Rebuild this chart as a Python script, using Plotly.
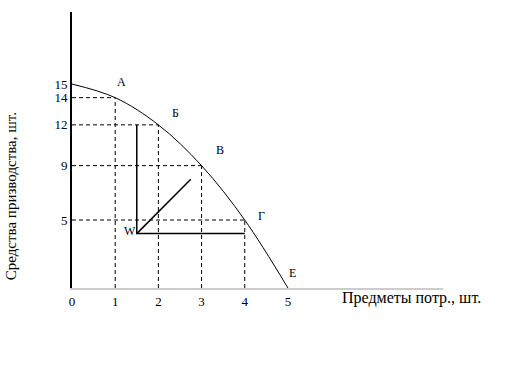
import plotly.graph_objects as go

# Production possibilities data
consumer_goods = [0, 1, 2, 3, 4, 5]          # Предметы потр., шт.
capital_goods = [15, 14, 12, 9, 5, 0]        # Средства призводства, шт.
point_labels = ["", "A", "Б", "В", "Г", "Е"]

# Point W (inside the frontier) and its guide lines
w_point = (1.5, 4)
w_vertical_top = 12
w_horizontal_right = 4
w_diag_end = (2.75, 8)

y_tick_vals = [15, 14, 12, 9, 5]
x_tick_vals = [0, 1, 2, 3, 4, 5]

serif = "Liberation Serif, Times New Roman, serif"
fig = go.Figure()

# dashed guides
for x, y in zip(consumer_goods[1:-1], capital_goods[1:-1]):
    fig.add_trace(go.Scatter(x=[x, x], y=[0, y], mode="lines",
                             line=dict(color="black", width=1, dash="4px,3px"),
                             hoverinfo="skip", showlegend=False))
    fig.add_trace(go.Scatter(x=[0, x], y=[y, y], mode="lines",
                             line=dict(color="black", width=1, dash="4px,3px"),
                             hoverinfo="skip", showlegend=False))

# frontier curve
fig.add_trace(go.Scatter(x=consumer_goods, y=capital_goods, mode="lines",
                         line=dict(color="black", width=1, shape="spline", smoothing=1.0),
                         showlegend=False))

# W lines
wx, wy = w_point
fig.add_trace(go.Scatter(x=[wx, wx, w_horizontal_right], y=[w_vertical_top, wy, wy],
                         mode="lines", line=dict(color="black", width=1.5), showlegend=False))
fig.add_trace(go.Scatter(x=[wx, w_diag_end[0]], y=[wy, w_diag_end[1]],
                         mode="lines", line=dict(color="black", width=1.5), showlegend=False))

# point labels
offsets = {"A": (6, 16), "Б": (17, 12), "В": (18, 16), "Г": (17, 4), "Е": (5, 15)}
for x, y, lab in zip(consumer_goods, capital_goods, point_labels):
    if not lab:
        continue
    dx, dy = offsets[lab]
    fig.add_annotation(x=x, y=y, text=lab, showarrow=False, xshift=dx, yshift=dy,
                       font=dict(family=serif, size=12, color="black"))
fig.add_annotation(x=wx, y=wy, text="W", showarrow=False, xshift=-7, yshift=3,
                   font=dict(family=serif, size=12, color="black"))

# axis titles
fig.add_annotation(xref="paper", yref="paper", x=0.916, y=-0.036, text="Предметы потр., шт.",
                   showarrow=False, xanchor="center", yanchor="middle",
                   font=dict(family=serif, size=16, color="black"))
fig.add_annotation(xref="paper", yref="paper", x=-0.164, y=0.333, text="Средства призводства, шт.",
                   showarrow=False, textangle=-90, xanchor="center", yanchor="middle",
                   font=dict(family=serif, size=15, color="black"))

fig.update_layout(
    width=528, height=381,
    margin=dict(l=72, r=85, t=12, b=93),
    paper_bgcolor="white", plot_bgcolor="white",
    xaxis=dict(range=[0, 8.59], showgrid=False, zeroline=False,
               showline=True, linecolor="#cccccc", linewidth=2,
               tickvals=x_tick_vals, ticktext=[str(v) for v in x_tick_vals],
               ticks="", tickfont=dict(family=serif, size=13, color="black")),
    yaxis=dict(range=[0, 20.3], showgrid=False, zeroline=False,
               showline=True, linecolor="black", linewidth=2,
               tickvals=y_tick_vals, ticktext=[str(v) for v in y_tick_vals],
               ticks="", ticklabelstandoff=0,
               tickfont=dict(family=serif, size=13, color="black")),
)

fig.write_html("out.html")
